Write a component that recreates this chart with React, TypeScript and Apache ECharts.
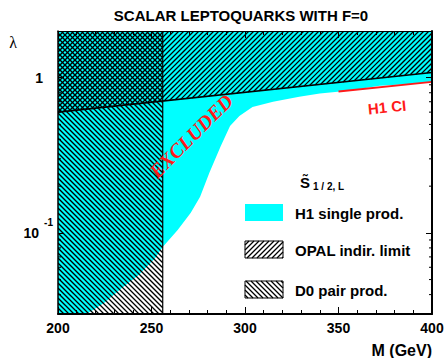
import React, { useEffect, useRef } from 'react';
import * as echarts from 'echarts';

// ---- data ----
const massRange = [200, 400];
const lambdaRange = [0.03, 2];
const massInterval = 50;
const lambdaMinorTicks = [0.04, 0.05, 0.06, 0.07, 0.08, 0.09, 0.2, 0.3, 0.4, 0.5, 0.6, 0.7, 0.8, 0.9];

// H1 single production exclusion boundary (region above is excluded)
const h1Mass = [214, 216, 225, 234, 243, 252, 256, 264, 271, 276, 281, 287, 292, 297, 304, 315, 329, 340, 355, 372, 390, 400];
const h1Lambda = [0.03, 0.0303, 0.0356, 0.044, 0.0534, 0.0688, 0.081, 0.1045, 0.135, 0.171, 0.245, 0.362, 0.488, 0.567, 0.648, 0.699, 0.755, 0.79, 0.823, 0.887, 0.914, 0.942];

// OPAL indirect limit (region above the line excluded)
const opalMass = [200, 400];
const opalLambda = [0.6, 1.08];

// D0 pair production (M below the limit excluded)
const d0Mass = [200, 256];

// H1 contact interactions
const h1ciMass = [350, 400];
const h1ciLambda = [0.815, 0.94];

const legendLabels = ['H1 single prod.', 'OPAL indir. limit', 'D0 pair prod.'];

const CYAN = '#00ffff';
const RED = '#ff1a1a';
const SANS = '"Liberation Sans", Arial, sans-serif';
const SERIF = '"Liberation Serif", "Times New Roman", serif';
const STEP = 5;

// "\" hatch in rectangle: lines y = x + c
function hatchBack(x0: number, y0: number, x1: number, y1: number, step: number) {
  const segs: number[][] = [];
  for (let c = Math.ceil((y0 - x1) / step) * step; c <= y1 - x0; c += step) {
    const xa = Math.max(x0, y0 - c);
    const xb = Math.min(x1, y1 - c);
    if (xb > xa) segs.push([xa, xa + c, xb, xb + c]);
  }
  return segs;
}

// "/" hatch in region x0..x1, yT <= y <= a + b x : lines y = c - x
function hatchFwd(x0: number, x1: number, yT: number, a: number, b: number, step: number) {
  const segs: number[][] = [];
  const cMax = x1 + a + b * x1;
  for (let c = Math.ceil((x0 + yT) / step) * step; c <= cMax; c += step) {
    const xa = Math.max(x0, (c - a) / (1 + b));
    const xb = Math.min(x1, c - yT);
    if (xb > xa) segs.push([xa, c - xa, xb, c - xb]);
  }
  return segs;
}

function segLines(segs: number[][]) {
  return segs.map((s) => ({
    type: 'line',
    shape: { x1: s[0], y1: s[1], x2: s[2], y2: s[3] },
    style: { stroke: '#000', lineWidth: 1.3 },
  }));
}

function isDecade(v: number) {
  const l = Math.log10(v);
  return Math.abs(l - Math.round(l)) < 1e-6;
}

export default function App() {
  const ref = useRef<HTMLDivElement>(null);

  useEffect(() => {
    const chart = echarts.init(ref.current!, null, { renderer: 'svg' });

    const xAxisBase = {
      type: 'value',
      min: massRange[0],
      max: massRange[1],
      interval: massInterval,
      z: 10,
      splitLine: { show: false },
      axisTick: { inside: true, length: 7, lineStyle: { color: '#000', width: 1 } },
      minorTick: { show: true, splitNumber: 5, length: 4, lineStyle: { color: '#000', width: 1 } },
    };
    const yAxisBase = {
      type: 'log',
      logBase: 10,
      min: lambdaRange[0],
      max: lambdaRange[1],
      splitNumber: 2,
      z: 10,
      splitLine: { show: false },
      axisTick: { inside: true, length: 6, lineStyle: { color: '#000', width: 1 } },
    };

    const option: any = {
      animation: false,
      backgroundColor: '#fff',
      grid: { left: 58, right: 13, top: 31, bottom: 44, containLabel: false, outerBoundsMode: 'none' },
      xAxis: [
        {
          ...xAxisBase,
          position: 'bottom',
          axisLine: { show: true, onZero: false, lineStyle: { color: '#000', width: 2 } },
          axisLabel: { show: true, margin: 7, color: '#000', fontWeight: 'bold', fontSize: 14, fontFamily: SANS },
        },
        {
          ...xAxisBase,
          position: 'top',
          axisLine: { show: true, onZero: false, lineStyle: { color: '#000', width: 1 } },
          axisLabel: { show: false },
        },
      ],
      yAxis: [
        {
          ...yAxisBase,
          position: 'left',
          axisLine: { show: true, lineStyle: { color: '#000', width: 1.5 } },
          axisLabel: {
            show: true,
            margin: 5,
            color: '#000',
            fontFamily: SANS,
            fontWeight: 'bold',
            formatter: (v: number) => {
              if (!isDecade(v)) return '';
              const e = Math.round(Math.log10(v));
              if (e === 0) return '{one|1}';
              return '{b|10}{s|' + e + '}';
            },
            rich: {
              one: { fontSize: 14, fontWeight: 'bold', fontFamily: SANS, color: '#000', padding: [0, 10, 0, 0] },
              b: { fontSize: 14, fontWeight: 'bold', fontFamily: SANS, color: '#000' },
              s: { fontSize: 10, fontWeight: 'bold', fontFamily: SANS, color: '#000', padding: [0, 0, 20, 5] },
            },
          },
        },
        {
          ...yAxisBase,
          position: 'right',
          axisLine: { show: true, lineStyle: { color: '#000', width: 2 } },
          axisLabel: { show: false },
        },
      ],
      series: [
        {
          name: 'H1 single prod.',
          type: 'custom',
          clip: true,
          z: 1,
          data: h1Mass.map((m, i) => [m, h1Lambda[i]]),
          renderItem: (params: any, api: any) => {
            if (params.dataIndex !== 0) return;
            const pts: number[][] = [];
            pts.push(api.coord([massRange[0], lambdaRange[1]]));
            pts.push(api.coord([massRange[0], lambdaRange[0]]));
            h1Mass.forEach((m, i) => pts.push(api.coord([m, h1Lambda[i]])));
            pts.push(api.coord([massRange[1], lambdaRange[1]]));
            return { type: 'polygon', shape: { points: pts }, style: { fill: CYAN, stroke: 'none' } };
          },
        },
        {
          name: 'D0 pair prod.',
          type: 'custom',
          clip: true,
          z: 2,
          data: [[d0Mass[0], lambdaRange[1]], [d0Mass[1], lambdaRange[0]]],
          renderItem: (params: any, api: any) => {
            if (params.dataIndex !== 0) return;
            const p0 = api.coord([d0Mass[0], lambdaRange[1]]);
            const p1 = api.coord([d0Mass[1], lambdaRange[0]]);
            return { type: 'group', children: segLines(hatchBack(p0[0], p0[1], p1[0], p1[1], STEP)) };
          },
        },
        {
          name: 'OPAL indir. limit',
          type: 'custom',
          clip: true,
          z: 2,
          data: opalMass.map((m, i) => [m, opalLambda[i]]),
          renderItem: (params: any, api: any) => {
            if (params.dataIndex !== 0) return;
            const pL = api.coord([opalMass[0], opalLambda[0]]);
            const pR = api.coord([opalMass[1], opalLambda[1]]);
            const yT = api.coord([opalMass[0], lambdaRange[1]])[1];
            const b = (pR[1] - pL[1]) / (pR[0] - pL[0]);
            const a = pL[1] - b * pL[0];
            return { type: 'group', children: segLines(hatchFwd(pL[0], pR[0], yT, a, b, STEP)) };
          },
        },
        {
          name: 'minor ticks',
          type: 'custom',
          clip: false,
          z: 11,
          data: lambdaMinorTicks.map((v) => [massRange[0], v]),
          renderItem: (params: any, api: any) => {
            const v = api.value(1);
            const pL = api.coord([massRange[0], v]);
            const pR = api.coord([massRange[1], v]);
            return {
              type: 'group',
              children: [
                { type: 'line', shape: { x1: pL[0], y1: pL[1], x2: pL[0] + 3, y2: pL[1] }, style: { stroke: '#000', lineWidth: 1 } },
                { type: 'line', shape: { x1: pR[0] - 3, y1: pR[1], x2: pR[0], y2: pR[1] }, style: { stroke: '#000', lineWidth: 1 } },
              ],
            };
          },
        },
        {
          name: 'OPAL line',
          type: 'line',
          z: 3,
          symbol: 'none',
          data: opalMass.map((m, i) => [m, opalLambda[i]]),
          lineStyle: { color: '#000', width: 1.6 },
        },
        {
          name: 'D0 line',
          type: 'line',
          z: 3,
          symbol: 'none',
          data: [[d0Mass[1], lambdaRange[0]], [d0Mass[1], lambdaRange[1]]],
          lineStyle: { color: '#000', width: 1.2 },
        },
        {
          name: 'H1 CI',
          type: 'line',
          z: 3,
          symbol: 'none',
          data: h1ciMass.map((m, i) => [m, h1ciLambda[i]]),
          lineStyle: { color: RED, width: 2 },
        },
      ],
      graphic: [
        {
          type: 'text', x: 241, y: 15, z: 100,
          style: { text: 'SCALAR LEPTOQUARKS WITH F=0', font: 'bold 15px ' + SANS, fill: '#000', textAlign: 'center', textVerticalAlign: 'middle' },
        },
        {
          type: 'text', x: 13, y: 42, z: 100,
          style: { text: 'λ', font: '16px ' + SERIF, fill: '#000', textAlign: 'center', textVerticalAlign: 'middle' },
        },
        {
          type: 'text', x: 432, y: 350, z: 100,
          style: { text: 'M (GeV)', font: 'bold 16px ' + SANS, fill: '#000', textAlign: 'right', textVerticalAlign: 'middle' },
        },
        {
          type: 'text', x: 191, y: 136, z: 100, rotation: Math.PI / 4,
          style: { text: 'EXCLUDED', font: 'italic bold 20px ' + SERIF, fill: RED, textAlign: 'center', textVerticalAlign: 'middle' },
        },
        {
          type: 'text', x: 387, y: 107, z: 100, rotation: 0.1,
          style: { text: 'H1 CI', font: 'bold 15px ' + SANS, fill: RED, textAlign: 'center', textVerticalAlign: 'middle' },
        },
        {
          type: 'text', x: 305, y: 182, z: 100,
          style: { text: 'S\u0303', font: 'bold 15px ' + SANS, fill: '#000', textAlign: 'center', textVerticalAlign: 'middle' },
        },
        {
          type: 'text', x: 313, y: 186, z: 100,
          style: { text: '1 / 2, L', font: 'bold 10px ' + SANS, fill: '#000', textAlign: 'left', textVerticalAlign: 'middle' },
        },
        // legend
        { type: 'rect', z: 100, shape: { x: 245, y: 204, width: 38, height: 17 }, style: { fill: CYAN } },
        {
          type: 'group', z: 100,
          children: [
            { type: 'rect', shape: { x: 245, y: 241, width: 38, height: 17 }, style: { fill: '#fff', stroke: '#000', lineWidth: 1 } },
            ...segLines(hatchFwd(245, 283, 241, 258, 0, STEP)),
          ],
        },
        {
          type: 'group', z: 100,
          children: [
            { type: 'rect', shape: { x: 245, y: 281, width: 38, height: 17 }, style: { fill: '#fff', stroke: '#000', lineWidth: 1 } },
            ...segLines(hatchBack(245, 281, 283, 298, STEP)),
          ],
        },
        ...legendLabels.map((t, i) => ({
          type: 'text', x: 295, y: [213, 250, 290][i], z: 100,
          style: { text: t, font: 'bold 15px ' + SANS, fill: '#000', textAlign: 'left', textVerticalAlign: 'middle' },
        })),
      ],
    };

    chart.setOption(option);
    return () => chart.dispose();
  }, []);

  return (
    <div
      ref={ref}
      style={{ position: 'fixed', left: 0, top: 0, width: 445, height: 358, background: '#fff' }}
    />
  );
}
